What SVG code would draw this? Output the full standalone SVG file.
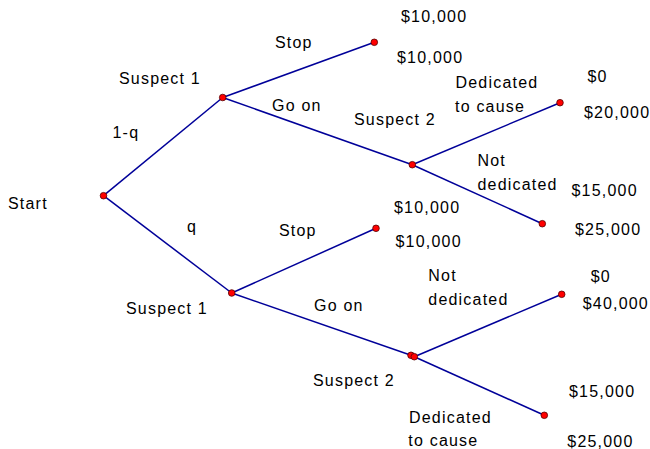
<svg xmlns="http://www.w3.org/2000/svg" width="650" height="449" viewBox="0 0 650 449">
<style>
text{font-family:"Liberation Sans",Arial,sans-serif;font-size:16px;letter-spacing:1.2px;fill:#000}
.e{stroke:#000099;stroke-width:1.5;fill:none}
.n{fill:#ff0000;stroke:#550000;stroke-width:0.8}
</style>
<rect width="650" height="449" fill="#fff"/>
<g id="connectors">
<line class="e" x1="103.5" y1="195.7" x2="222.7" y2="97.5"/>
<line class="e" x1="103.5" y1="195.7" x2="231.7" y2="293"/>
<line class="e" x1="222.7" y1="97.5" x2="374.3" y2="42.3"/>
<line class="e" x1="222.7" y1="97.5" x2="412.3" y2="164.7"/>
<line class="e" x1="412.3" y1="164.7" x2="560" y2="102.7"/>
<line class="e" x1="412.3" y1="164.7" x2="542.3" y2="223.7"/>
<line class="e" x1="231.7" y1="293" x2="376" y2="228.3"/>
<line class="e" x1="231.7" y1="293" x2="411" y2="355.3"/>
<line class="e" x1="414.3" y1="356.7" x2="561.7" y2="294.3"/>
<line class="e" x1="414.3" y1="356.7" x2="544.3" y2="415.3"/>
</g>
<g id="start"><circle class="n" cx="103.5" cy="195.7" r="3.3"/><text x="8" y="209">Start</text></g>
<g id="s1-upper"><circle class="n" cx="222.7" cy="97.5" r="3.3"/><text x="119" y="84">Suspect 1</text><text x="112.5" y="138">1-q</text></g>
<g id="stop-upper"><circle class="n" cx="374.3" cy="42.3" r="3.3"/><text x="275" y="48">Stop</text><text x="401" y="22">$10,000</text><text x="397" y="63">$10,000</text></g>
<g id="s2-upper"><circle class="n" cx="412.3" cy="164.7" r="3.3"/><text x="272" y="111">Go on</text><text x="354" y="125">Suspect 2</text></g>
<g id="ded-upper"><circle class="n" cx="560" cy="102.7" r="3.3"/><text x="455.5" y="88">Dedicated</text><text x="455" y="111.5">to cause</text><text x="587.5" y="81.5">$0</text><text x="584" y="118">$20,000</text></g>
<g id="notded-upper"><circle class="n" cx="542.3" cy="223.7" r="3.3"/><text x="477.5" y="166">Not</text><text x="477.5" y="190">dedicated</text><text x="571.5" y="196">$15,000</text><text x="575" y="235">$25,000</text></g>
<g id="s1-lower"><circle class="n" cx="231.7" cy="293" r="3.3"/><text x="126" y="314">Suspect 1</text><text x="187" y="232">q</text></g>
<g id="stop-lower"><circle class="n" cx="376" cy="228.3" r="3.3"/><text x="279" y="236">Stop</text><text x="394" y="213">$10,000</text><text x="395.5" y="246.5">$10,000</text></g>
<g id="s2-lower"><circle class="n" cx="411" cy="355.3" r="3.3"/><circle class="n" cx="414.3" cy="356.7" r="3.3"/><text x="314" y="311">Go on</text><text x="313" y="386">Suspect 2</text></g>
<g id="notded-lower"><circle class="n" cx="561.7" cy="294.3" r="3.3"/><text x="428.3" y="281">Not</text><text x="428.3" y="305">dedicated</text><text x="590.7" y="281.5">$0</text><text x="582.7" y="309">$40,000</text></g>
<g id="ded-lower"><circle class="n" cx="544.3" cy="415.3" r="3.3"/><text x="409" y="423">Dedicated</text><text x="408.3" y="446">to cause</text><text x="569" y="396.5">$15,000</text><text x="567.3" y="446.5">$25,000</text></g>
</svg>
